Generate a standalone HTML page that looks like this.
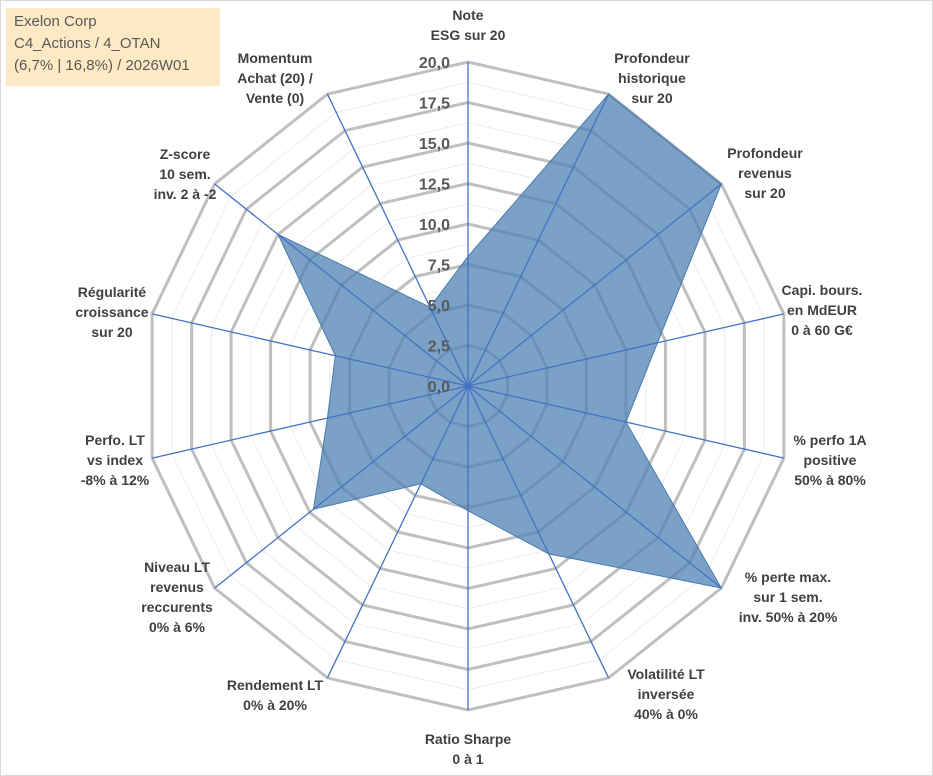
<!DOCTYPE html>
<html><head><meta charset="utf-8"><style>
body{margin:0;background:#fff;font-family:"Liberation Sans",Arial,sans-serif}
#wrap{position:relative;width:933px;height:776px;overflow:hidden}
.title{position:absolute;left:6px;top:8px;width:214px;height:78px;background:#fde9c4;color:#595959;font-size:15px;line-height:22px;padding:3px 0 0 8px;box-sizing:border-box}
.lbl{position:absolute;transform:translate(-50%,0);text-align:center;font-weight:bold;font-size:14px;line-height:20px;color:#404040;white-space:nowrap}
</style></head><body>
<div id="wrap">
<svg id="svg" width="933" height="776" style="position:absolute;left:0;top:0">
<rect x="0.5" y="0.5" width="932" height="775" fill="#fff" stroke="#d9d9d9"/>
</svg>
<div class="title">Exelon Corp<br>C4_Actions / 4_OTAN<br>(6,7% | 16,8%) / 2026W01</div>
<div class="lbl" style="left:468px;top:5px">Note<br>ESG sur 20</div>
<div class="lbl" style="left:652px;top:48px">Profondeur<br>historique<br>sur 20</div>
<div class="lbl" style="left:765px;top:143px">Profondeur<br>revenus<br>sur 20</div>
<div class="lbl" style="left:822px;top:280px">Capi. bours.<br>en MdEUR<br>0 à 60 G€</div>
<div class="lbl" style="left:830px;top:430px">% perfo 1A<br>positive<br>50% à 80%</div>
<div class="lbl" style="left:788px;top:567px">% perte max.<br>sur 1 sem.<br>inv. 50% à 20%</div>
<div class="lbl" style="left:666px;top:664px">Volatilité LT<br>inversée<br>40% à 0%</div>
<div class="lbl" style="left:468px;top:729px">Ratio Sharpe<br>0 à 1</div>
<div class="lbl" style="left:275px;top:675px">Rendement LT<br>0% à 20%</div>
<div class="lbl" style="left:177px;top:557px">Niveau LT<br>revenus<br>reccurents<br>0% à 6%</div>
<div class="lbl" style="left:115px;top:430px">Perfo. LT<br>vs index<br>-8% à 12%</div>
<div class="lbl" style="left:112px;top:282px">Régularité<br>croissance<br>sur 20</div>
<div class="lbl" style="left:185px;top:144px">Z-score<br>10 sem.<br>inv. 2 à -2</div>
<div class="lbl" style="left:275px;top:48px">Momentum<br>Achat (20) /<br>Vente (0)</div>
</div>
<script>
const categories=["ESG","Prof hist","Prof rev","Capi","Perfo 1A","Perte max","Volatilite","Sharpe","Rendement","Niveau","Perfo LT","Regularite","Zscore","Momentum"];
const values=[8,20,20,12,10,20,11.5,7.7,6.7,12.2,8.9,8.4,15,5.4];
const ticks=[0,2.5,5,7.5,10,12.5,15,17.5,20];
const tickLabels=["0,0","2,5","5,0","7,5","10,0","12,5","15,0","17,5","20,0"];
const CX=468,CY=386,R=324,MAX=20;
const svg=document.getElementById('svg');const NS="http://www.w3.org/2000/svg";
const n=categories.length;
function pt(i,v){const a=i*2*Math.PI/n;const r=v/MAX*R;return [CX+r*Math.sin(a),CY-r*Math.cos(a)];}
function mk(t,at){const e=document.createElementNS(NS,t);for(const k in at)e.setAttribute(k,at[k]);svg.appendChild(e);return e;}
// minor rings
for(let k=0;k<ticks.length-1;k++){const v=ticks[k]+1.25;const p=categories.map((c,i)=>pt(i,v).join(',')).join(' ');
const e=mk('polygon',{points:p,fill:'none',stroke:'#ececec','stroke-width':1});

}
ticks.forEach(v=>{if(v===0)return;const p=categories.map((c,i)=>pt(i,v).join(',')).join(' ');
const e=mk('polygon',{points:p,fill:'none',stroke:'#bfbfbf','stroke-width':3});

});
const poly=mk('polygon',{points:values.map((v,i)=>pt(i,v).join(',')).join(' '),fill:'#4f81b4','fill-opacity':0.75,stroke:'#4a7ab0','stroke-width':1});


categories.forEach((c,i)=>{const p=pt(i,MAX);const l=mk('line',{x1:CX,y1:CY,x2:p[0],y2:p[1],stroke:'#4472c4','stroke-width':1.3});

});
ticks.forEach((v,k)=>{const y=CY-v/MAX*R;const t=mk('text',{x:450,y:y+6,'text-anchor':'end','font-size':16,'font-weight':'bold',fill:'#595959','font-family':'Liberation Sans, sans-serif'});t.textContent=tickLabels[k];

});
</script>
</body></html>
